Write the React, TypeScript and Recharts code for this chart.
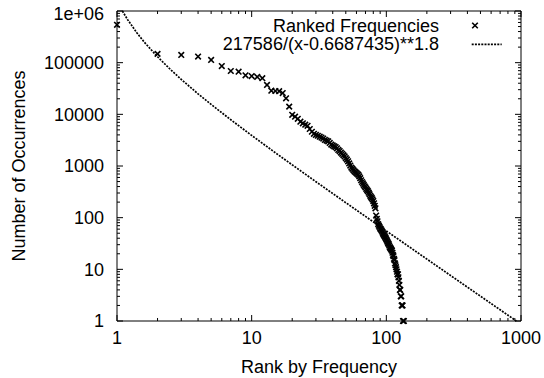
import React from 'react';
import { ComposedChart, Scatter, Line, XAxis, YAxis, Legend } from 'recharts';

const SERIES_POINTS = 'Ranked Frequencies';
const SERIES_FIT = '217586/(x-0.6687435)**1.8';
const X_LABEL = 'Rank by Frequency';
const Y_LABEL = 'Number of Occurrences';

// occurrences for rank 1, 2, 3, ...
const frequencies = [
  540000, 148000, 141000, 131000, 113000, 86000, 69000, 67000, 57000, 55000,
  53000, 50000, 37000, 28700, 28300, 28000, 25800, 20400, 14100, 9800,
  9000, 8200, 7200, 6700, 6300, 6000, 5200, 4600, 4200, 4000,
  3850, 3700, 3550, 3400, 3200, 3100, 3000, 2800, 2600, 2500,
  2400, 2330, 2200, 2050, 1950, 1820, 1720, 1620, 1530, 1420,
  1330, 1230, 1120, 1020, 930, 880, 830, 790, 760, 730,
  700, 675, 630, 580, 530, 490, 460, 430, 405, 385,
  360, 340, 325, 305, 285, 265, 250, 240, 225, 210,
  190, 170, 152, 110, 95, 85, 75, 70, 66, 62,
  60, 57, 54, 51, 48, 46, 44, 42, 40, 38,
  36, 34, 32, 31, 29, 27, 26, 25, 24, 23,
  21, 19, 18, 16, 15, 13, 12, 11, 10, 9,
  8, 8, 7, 6, 5, 4, 4, 3, 3, 2,
  2, 2, 1, 1, 1,
];

// fitted curve, sampled
const fitX = [1.097, 1.2, 1.4, 1.6, 2, 2.5, 3, 4, 5, 7, 10, 15, 20, 30, 50, 70, 100, 200, 300, 500, 700, 924];
const fitY = [1000000, 679300, 382100, 247300, 130000, 73210, 47410, 24940, 15550, 7852, 3906, 1804, 1053, 496.9, 195.0, 105.7, 55.34, 15.79, 7.59, 3.02, 1.648, 1.0];

const xTicks = [1, 10, 100, 1000];
const xTickLabels = ['1', '10', '100', '1000'];
const xMinorTicks = [2, 3, 4, 5, 6, 7, 8, 9, 20, 30, 40, 50, 60, 70, 80, 90, 200, 300, 400, 500, 600, 700, 800, 900];
const yTicks = [1, 10, 100, 1000, 10000, 100000, 1000000];
const yTickLabels = ['1', '10', '100', '1000', '10000', '100000', '1e+06'];
const yMinorTicks = [
  2, 3, 4, 5, 6, 7, 8, 9,
  20, 30, 40, 50, 60, 70, 80, 90,
  200, 300, 400, 500, 600, 700, 800, 900,
  2000, 3000, 4000, 5000, 6000, 7000, 8000, 9000,
  20000, 30000, 40000, 50000, 60000, 70000, 80000, 90000,
  200000, 300000, 400000, 500000, 600000, 700000, 800000, 900000,
];

const pointData = frequencies.map((v, i) => ({ x: i + 1, y: v }));
const fitData = fitX.map((x, i) => ({ x, y: fitY[i] }));

const FONT = '"Liberation Sans", Arial, Helvetica, sans-serif';
const BLACK = '#000';
const THIN = 0.01;

const Cross = (props: any) => {
  const { cx, cy } = props;
  if (cx == null || cy == null) return <g />;
  const h = 2.8;
  return (
    <path
      d={`M${cx - h},${cy - h}L${cx + h},${cy + h}M${cx - h},${cy + h}L${cx + h},${cy - h}`}
      stroke={BLACK}
      strokeWidth={1.6}
      fill="none"
    />
  );
};

const Empty = () => <g />;
const EmptyTick = () => <g />;

const XTick = (props: any) => {
  const { x, y, payload } = props;
  const label = xTickLabels[xTicks.indexOf(payload.value)] ?? String(payload.value);
  return (
    <text x={x} y={y} dy="0.71em" textAnchor="middle" fontSize={18} fontFamily={FONT} fill={BLACK}>
      {label}
    </text>
  );
};

const YTick = (props: any) => {
  const { x, y, payload } = props;
  const label = yTickLabels[yTicks.indexOf(payload.value)] ?? String(payload.value);
  const shift = payload.value === yTicks[yTicks.length - 1] ? 3 : 0;
  return (
    <text x={x} y={y + shift} dy="0.355em" textAnchor="end" fontSize={18} fontFamily={FONT} fill={BLACK}>
      {label}
    </text>
  );
};

const XLabel = (props: any) => {
  const vb = props.viewBox || { x: 0, y: 0, width: 0, height: 0 };
  return (
    <text x={vb.x + vb.width / 2} y={vb.y + 51.5} textAnchor="middle" fontSize={18} fontFamily={FONT} fill={BLACK}>
      {X_LABEL}
    </text>
  );
};

const YLabel = (props: any) => {
  const vb = props.viewBox || { x: 0, y: 0, width: 0, height: 0 };
  const cx = vb.x + 25;
  const cy = vb.y + vb.height / 2;
  return (
    <text x={cx} y={cy} transform={`rotate(-90 ${cx} ${cy})`} textAnchor="middle" fontSize={18} fontFamily={FONT} fill={BLACK}>
      {Y_LABEL}
    </text>
  );
};

const LegendContent = () => {
  const h = 2.8;
  const mx = 475;
  const my = 25.5;
  return (
    <svg width={544} height={60} style={{ display: 'block' }}>
      <text x={439} y={31.5} textAnchor="end" fontSize={18} fontFamily={FONT} fill={BLACK}>{SERIES_POINTS}</text>
      <path d={`M${mx - h},${my - h}L${mx + h},${my + h}M${mx - h},${my + h}L${mx + h},${my - h}`} stroke={BLACK} strokeWidth={1.6} fill="none" />
      <text x={439} y={49.5} textAnchor="end" fontSize={18} fontFamily={FONT} fill={BLACK}>{SERIES_FIT}</text>
      <line x1={471.7} y1={44.3} x2={501.7} y2={44.3} stroke={BLACK} strokeWidth={1.7} strokeDasharray="2 1.2" />
    </svg>
  );
};

const xBase = {
  type: 'number' as const,
  scale: 'log' as const,
  domain: [1, 1000],
  interval: 0 as const,
  dataKey: 'x',
};
const yBase = {
  type: 'number' as const,
  scale: 'log' as const,
  domain: [1, 1000000],
  interval: 0 as const,
  dataKey: 'y',
};
const xCommon = { ...xBase, allowDataOverflow: true };
const yCommon = { ...yBase, allowDataOverflow: true };

export default function App() {
  return (
    <div style={{ position: 'absolute', left: 0, top: 0, width: 544, height: 378 }}>
      <ComposedChart width={544} height={378} margin={{ top: 11, right: 23, bottom: 0, left: 0 }} style={{ fontFamily: FONT }}>
        <XAxis
          xAxisId="x"
          {...xBase}
          ticks={xTicks}
          tick={XTick}
          tickLine={false}
          tickSize={0}
          tickMargin={10}
          axisLine={{ stroke: BLACK }}
          height={57}
          label={XLabel}
        />
        <XAxis xAxisId="xbMaj" {...xCommon} orientation="bottom" mirror height={THIN} ticks={xTicks} tick={EmptyTick} tickSize={6} axisLine={false} tickLine={{ stroke: BLACK }} />
        <XAxis xAxisId="xbMin" {...xCommon} orientation="bottom" mirror height={THIN} ticks={xMinorTicks} tick={EmptyTick} tickSize={3} axisLine={false} tickLine={{ stroke: BLACK }} />
        <XAxis xAxisId="xtMaj" {...xCommon} orientation="top" mirror height={THIN} ticks={xTicks} tick={EmptyTick} tickSize={6} axisLine={{ stroke: BLACK }} tickLine={{ stroke: BLACK }} />
        <XAxis xAxisId="xtMin" {...xCommon} orientation="top" mirror height={THIN} ticks={xMinorTicks} tick={EmptyTick} tickSize={3} axisLine={false} tickLine={{ stroke: BLACK }} />

        <YAxis
          yAxisId="y"
          {...yBase}
          ticks={yTicks}
          tick={YTick}
          tickLine={false}
          tickSize={0}
          tickMargin={13}
          axisLine={{ stroke: BLACK }}
          width={117}
          label={YLabel}
        />
        <YAxis yAxisId="ylMaj" {...yCommon} orientation="left" mirror width={THIN} ticks={yTicks} tick={EmptyTick} tickSize={6} axisLine={false} tickLine={{ stroke: BLACK }} />
        <YAxis yAxisId="ylMin" {...yCommon} orientation="left" mirror width={THIN} ticks={yMinorTicks} tick={EmptyTick} tickSize={3} axisLine={false} tickLine={{ stroke: BLACK }} />
        <YAxis yAxisId="yrMaj" {...yCommon} orientation="right" mirror width={THIN} ticks={yTicks} tick={EmptyTick} tickSize={6} axisLine={{ stroke: BLACK }} tickLine={{ stroke: BLACK }} />
        <YAxis yAxisId="yrMin" {...yCommon} orientation="right" mirror width={THIN} ticks={yMinorTicks} tick={EmptyTick} tickSize={3} axisLine={false} tickLine={{ stroke: BLACK }} />

        {/* invisible series that bind the frame/tick axes to the data */}
        <Scatter data={pointData} xAxisId="xbMaj" yAxisId="ylMaj" dataKey="y" shape={Empty} legendType="none" isAnimationActive={false} />
        <Scatter data={pointData} xAxisId="xbMin" yAxisId="ylMin" dataKey="y" shape={Empty} legendType="none" isAnimationActive={false} />
        <Scatter data={pointData} xAxisId="xtMaj" yAxisId="yrMaj" dataKey="y" shape={Empty} legendType="none" isAnimationActive={false} />
        <Scatter data={pointData} xAxisId="xtMin" yAxisId="yrMin" dataKey="y" shape={Empty} legendType="none" isAnimationActive={false} />

        <Scatter
          name={SERIES_POINTS}
          data={pointData}
          xAxisId="x"
          yAxisId="y"
          dataKey="y"
          shape={Cross}
          isAnimationActive={false}
        />
        <Line
          name={SERIES_FIT}
          data={fitData}
          xAxisId="x"
          yAxisId="y"
          dataKey="y"
          type="linear"
          dot={false}
          activeDot={false}
          stroke={BLACK}
          strokeWidth={1.7}
          strokeDasharray="2 1.2"
          isAnimationActive={false}
        />
        <Legend
          layout="vertical"
          align="center"
          verticalAlign="middle"
          wrapperStyle={{ left: 0, top: 0, width: 544, height: 60 }}
          content={LegendContent}
        />
      </ComposedChart>
    </div>
  );
}
